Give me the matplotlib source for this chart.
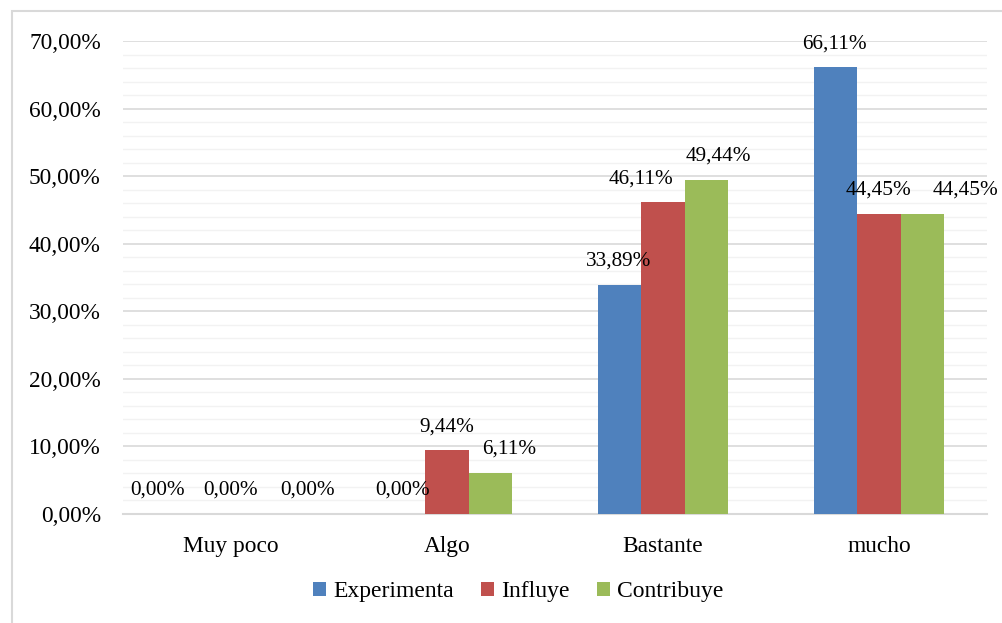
import matplotlib
matplotlib.use("Agg")
import matplotlib.pyplot as plt
import numpy as np
from matplotlib.patches import Rectangle

categories = ["Muy poco", "Algo", "Bastante", "mucho"]
series_names = ["Experimenta", "Influye", "Contribuye"]
experimenta = [0.00, 0.00, 33.89, 66.11]
influye = [0.00, 9.44, 46.11, 44.45]
contribuye = [0.00, 6.11, 49.44, 44.45]
yticks = [0, 10, 20, 30, 40, 50, 60, 70]

colors = ["#4F81BD", "#C0504D", "#9BBB59"]
# label x offsets (points) per series per category, to mimic the reference placement
label_dx = [
    [-22, -1, -1, -1],
    [0, 0, -16, 0],
    [24, 14, 9, 31],
]

plt.rcParams['font.family'] = ['Liberation Serif', 'DejaVu Serif']
fig = plt.figure(figsize=(10.03, 6.23), dpi=100)
ax = fig.add_axes([123/1003, 1-514/623, (987-123)/1003, (514-41)/623])

fig.patches.append(Rectangle((12/1003, -1), 2, 2-11/623, transform=fig.transFigure,
                             fill=False, edgecolor="#D9D9D9", linewidth=1.5))

x = np.arange(len(categories))
w = 0.2
data = [experimenta, influye, contribuye]
for i, (vals, name, c) in enumerate(zip(data, series_names, colors)):
    pos = x + (i - 1) * w
    ax.bar(pos, vals, width=w, color=c, label=name, zorder=3)
    for j, (p, v) in enumerate(zip(pos, vals)):
        ax.annotate(f"{v:.2f}%".replace(".", ","), xy=(p, v), xytext=(label_dx[i][j], 17),
                    textcoords="offset points", ha="center", va="center", fontsize=15.3,
                    color="#000000", zorder=4)

ax.set_xlim(-0.5, len(categories) - 0.5)
ax.set_ylim(0, 70)
ax.set_yticks(yticks)
ax.set_yticklabels([f"{t:.2f}%".replace(".", ",") for t in yticks], fontsize=16.8)
ax.set_yticks(np.arange(0, 70, 2), minor=True)
ax.set_xticks(x)
ax.set_xticklabels(categories, fontsize=16.8)
ax.tick_params(axis="both", length=0)
ax.tick_params(axis="y", which="minor", length=0)
ax.tick_params(axis="y", pad=16)
ax.tick_params(axis="x", pad=16)
ax.grid(axis="y", which="major", color="#D9D9D9", linewidth=1.2, zorder=0)
ax.grid(axis="y", which="minor", color="#F2F2F2", linewidth=1.0, zorder=0)
for s in ["top", "right", "left"]:
    ax.spines[s].set_visible(False)
ax.spines["bottom"].set_color("#D9D9D9")
ax.spines["bottom"].set_linewidth(1.5)

leg = fig.legend(loc="center", bbox_to_anchor=(518/1003, 1-592/623), ncol=3, frameon=False,
                 fontsize=17, handlelength=0.55, handleheight=0.55, handletextpad=0.3,
                 columnspacing=1.15)

fig.savefig("out.png", dpi=100)
